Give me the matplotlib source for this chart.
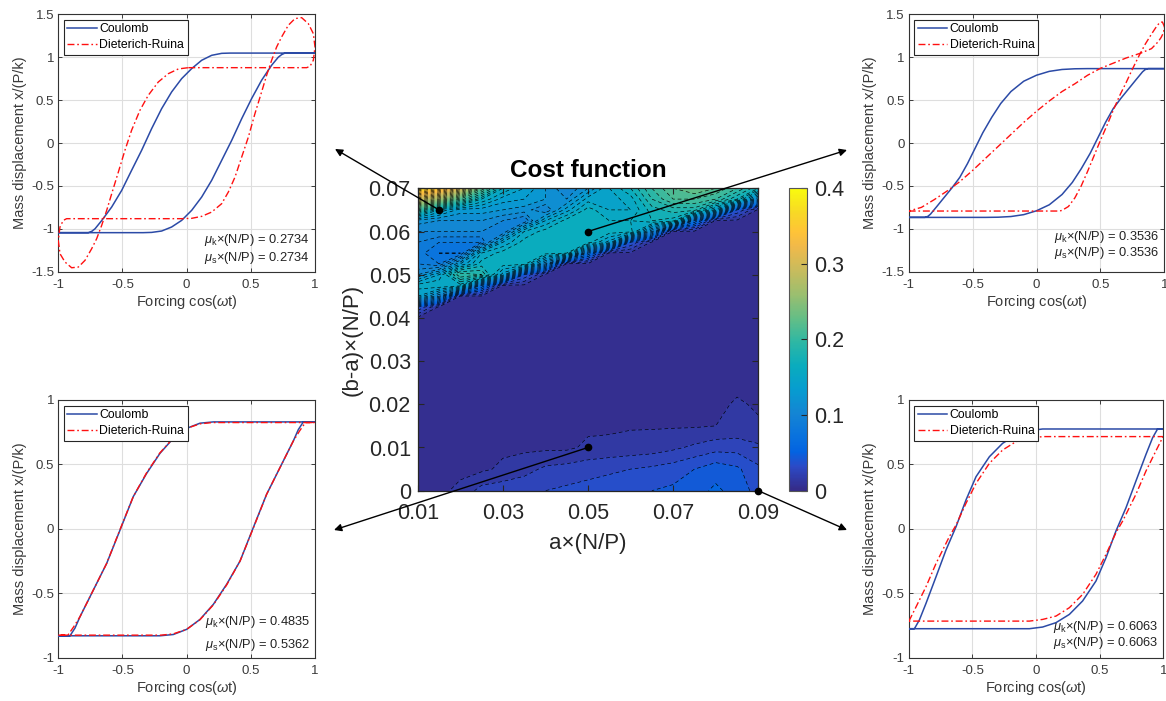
import numpy as np
import matplotlib
matplotlib.use('Agg')
import matplotlib.pyplot as plt
from matplotlib.colors import LinearSegmentedColormap, Normalize
from matplotlib.cm import ScalarMappable

plt.rcParams['font.family'] = ['Liberation Sans', 'DejaVu Sans']
plt.rcParams['mathtext.fontset'] = 'custom'
plt.rcParams['mathtext.rm'] = 'Liberation Sans'
plt.rcParams['mathtext.it'] = 'Liberation Sans:italic'
plt.rcParams['axes.unicode_minus'] = False

# ---------------- data: cost function grid ----------------
cost_a = [0.010, 0.015, 0.020, 0.025, 0.030, 0.035, 0.040, 0.045, 0.050,
          0.055, 0.060, 0.065, 0.070, 0.075, 0.080, 0.085, 0.090]
cost_ba = [0.000, 0.005, 0.010, 0.015, 0.020, 0.025, 0.030, 0.035, 0.040,
           0.0425, 0.045, 0.0475, 0.050, 0.0525, 0.055, 0.0575, 0.060,
           0.0625, 0.065, 0.0675, 0.070]
cost_grid = [
    [0.008, 0.008, 0.012, 0.024, 0.026, 0.028, 0.030, 0.032, 0.034, 0.036, 0.038, 0.040, 0.042, 0.046, 0.052, 0.046, 0.036],
    [0.008, 0.008, 0.008, 0.008, 0.012, 0.016, 0.022, 0.024, 0.026, 0.028, 0.030, 0.032, 0.035, 0.040, 0.046, 0.042, 0.032],
    [0.008, 0.008, 0.008, 0.008, 0.008, 0.008, 0.008, 0.008, 0.012, 0.013, 0.014, 0.015, 0.018, 0.022, 0.026, 0.026, 0.022],
    [0.008, 0.008, 0.008, 0.008, 0.008, 0.008, 0.008, 0.008, 0.008, 0.008, 0.009, 0.009, 0.009, 0.009, 0.010, 0.012, 0.011],
    [0.008, 0.008, 0.008, 0.008, 0.008, 0.008, 0.008, 0.008, 0.008, 0.008, 0.008, 0.008, 0.008, 0.008, 0.008, 0.011, 0.009],
    [0.008, 0.008, 0.008, 0.008, 0.008, 0.008, 0.008, 0.008, 0.008, 0.008, 0.008, 0.008, 0.008, 0.008, 0.008, 0.008, 0.008],
    [0.008, 0.008, 0.008, 0.008, 0.008, 0.008, 0.008, 0.008, 0.008, 0.008, 0.008, 0.008, 0.008, 0.008, 0.008, 0.008, 0.008],
    [0.008, 0.008, 0.008, 0.008, 0.008, 0.008, 0.008, 0.008, 0.008, 0.008, 0.008, 0.008, 0.008, 0.008, 0.008, 0.008, 0.008],
    [0.008, 0.008, 0.008, 0.008, 0.008, 0.008, 0.008, 0.008, 0.008, 0.008, 0.008, 0.008, 0.008, 0.008, 0.008, 0.008, 0.008],
    [0.040, 0.008, 0.008, 0.008, 0.008, 0.008, 0.008, 0.008, 0.008, 0.008, 0.008, 0.008, 0.008, 0.008, 0.008, 0.008, 0.008],
    [0.140, 0.100, 0.008, 0.008, 0.008, 0.008, 0.008, 0.008, 0.008, 0.008, 0.008, 0.008, 0.008, 0.008, 0.008, 0.008, 0.008],
    [0.155, 0.160, 0.155, 0.070, 0.008, 0.008, 0.008, 0.008, 0.008, 0.008, 0.008, 0.008, 0.008, 0.008, 0.008, 0.008, 0.008],
    [0.110, 0.140, 0.200, 0.190, 0.135, 0.040, 0.008, 0.008, 0.008, 0.008, 0.008, 0.008, 0.008, 0.008, 0.008, 0.008, 0.008],
    [0.090, 0.080, 0.130, 0.165, 0.165, 0.165, 0.100, 0.008, 0.008, 0.008, 0.008, 0.008, 0.008, 0.008, 0.008, 0.008, 0.008],
    [0.085, 0.070, 0.070, 0.150, 0.165, 0.165, 0.165, 0.160, 0.070, 0.008, 0.008, 0.008, 0.008, 0.008, 0.008, 0.008, 0.008],
    [0.090, 0.080, 0.080, 0.080, 0.140, 0.165, 0.165, 0.165, 0.165, 0.135, 0.040, 0.008, 0.008, 0.008, 0.008, 0.008, 0.008],
    [0.100, 0.100, 0.100, 0.100, 0.090, 0.150, 0.165, 0.165, 0.165, 0.165, 0.165, 0.100, 0.008, 0.008, 0.008, 0.008, 0.008],
    [0.115, 0.110, 0.110, 0.110, 0.100, 0.090, 0.140, 0.165, 0.165, 0.160, 0.160, 0.170, 0.165, 0.070, 0.008, 0.008, 0.008],
    [0.200, 0.150, 0.125, 0.125, 0.120, 0.115, 0.100, 0.135, 0.165, 0.150, 0.150, 0.175, 0.185, 0.185, 0.135, 0.040, 0.008],
    [0.290, 0.260, 0.210, 0.160, 0.135, 0.130, 0.120, 0.110, 0.145, 0.145, 0.155, 0.190, 0.210, 0.210, 0.200, 0.170, 0.100],
    [0.370, 0.350, 0.300, 0.220, 0.160, 0.140, 0.120, 0.100, 0.120, 0.150, 0.170, 0.200, 0.220, 0.230, 0.220, 0.200, 0.170],
]
cost_xticks = [0.01, 0.03, 0.05, 0.07, 0.09]
cost_xticklabels = ['0.01', '0.03', '0.05', '0.07', '0.09']
cost_yticks = [0, 0.01, 0.02, 0.03, 0.04, 0.05, 0.06, 0.07]
cost_yticklabels = ['0', '0.01', '0.02', '0.03', '0.04', '0.05', '0.06', '0.07']
cbar_ticks = [0, 0.1, 0.2, 0.3, 0.4]
cbar_ticklabels = ['0', '0.1', '0.2', '0.3', '0.4']

# selected parameter points (a, b-a) linked to panels TL, TR, BL, BR
sel_a = [0.015, 0.05, 0.05, 0.09]
sel_ba = [0.065, 0.06, 0.01, 0.0]

# ---------------- data: hysteresis loops ----------------
# Top-left: mu_k = mu_s = 0.2734
tl_coul_x = [-1.0, -0.766, -0.74, -0.714, -0.662, -0.584, -0.506, -0.429, -0.351, -0.273, -0.195, -0.117, -0.039,
             0.039, 0.117, 0.195, 0.273, 0.34, 1.0,
             0.766, 0.74, 0.714, 0.662, 0.584, 0.506, 0.429, 0.351, 0.273, 0.195, 0.117, 0.039,
             -0.039, -0.117, -0.195, -0.273, -0.34, -1.0]
tl_coul_y = [-1.045, -1.045, -1.03, -1.0, -0.904, -0.746, -0.552, -0.319, -0.086, 0.167, 0.4, 0.595, 0.75,
             0.867, 0.964, 1.022, 1.045, 1.048, 1.048,
             1.048, 1.03, 1.0, 0.906, 0.731, 0.517, 0.284, 0.031, -0.202, -0.435, -0.63, -0.785,
             -0.902, -0.979, -1.026, -1.042, -1.045, -1.045]
tl_dr_x = [0.013, 0.3, 0.6, 0.935, 0.961, 0.987, 1.0, 0.987, 0.948, 0.896, 0.844, 0.792, 0.74, 0.701, 0.662,
           0.623, 0.584, 0.532, 0.481, 0.429, 0.377, 0.325, 0.273, 0.195, 0.117, 0.039, -0.039, -0.3, -0.6,
           -0.935, -0.961, -0.987, -1.0, -0.987, -0.948, -0.896, -0.844, -0.792, -0.74, -0.701, -0.662,
           -0.623, -0.584, -0.532, -0.481, -0.429, -0.364, -0.299, -0.221, -0.143, -0.065, 0.013]
tl_dr_y = [0.878, 0.878, 0.878, 0.878, 0.894, 0.964, 1.119, 1.275, 1.391, 1.461, 1.45, 1.372, 1.236, 1.119, 0.964,
           0.789, 0.595, 0.342, 0.07, -0.163, -0.396, -0.571, -0.707, -0.805, -0.855, -0.878, -0.882, -0.882, -0.882,
           -0.882, -0.902, -0.979, -1.135, -1.29, -1.387, -1.454, -1.446, -1.368, -1.232, -1.115, -0.96,
           -0.785, -0.591, -0.338, -0.086, 0.148, 0.381, 0.556, 0.711, 0.808, 0.863, 0.878]

# Top-right: mu_k = mu_s = 0.3536
tr_coul_x = [-1.0, -0.874, -0.85, -0.83, -0.78, -0.72, -0.66, -0.6, -0.54, -0.48, -0.42, -0.35, -0.28, -0.2, -0.1,
             0.0, 0.1, 0.2, 0.3, 0.4, 0.49, 1.0,
             0.874, 0.85, 0.83, 0.78, 0.72, 0.66, 0.6, 0.54, 0.48, 0.42, 0.35, 0.28, 0.2, 0.1,
             0.0, -0.1, -0.2, -0.3, -0.4, -0.49, -1.0]
tr_coul_y = [-0.867, -0.867, -0.855, -0.83, -0.74, -0.63, -0.52, -0.40, -0.24, -0.06, 0.12, 0.30, 0.46, 0.60, 0.72,
             0.79, 0.835, 0.857, 0.865, 0.867, 0.867, 0.867,
             0.867, 0.855, 0.83, 0.74, 0.63, 0.52, 0.40, 0.24, 0.06, -0.12, -0.30, -0.46, -0.60, -0.72,
             -0.79, -0.835, -0.857, -0.865, -0.867, -0.867, -0.867]
tr_dr_x = [-1.0, 0.18, 0.2, 0.25, 0.3, 0.35, 0.4, 0.45, 0.5, 0.55, 0.6, 0.65, 0.7, 0.75, 0.8, 0.85, 0.9,
           0.94, 0.965, 0.985, 1.0, 0.995, 0.975, 0.952, 0.9, 0.82, 0.7, 0.6, 0.5, 0.4, 0.3, 0.2, 0.1, 0.0,
           -0.1, -0.2, -0.3, -0.4, -0.5, -0.6, -0.7, -0.8, -0.9, -1.0]
tr_dr_y = [-0.793, -0.793, -0.785, -0.74, -0.64, -0.5, -0.33, -0.15, 0.03, 0.2, 0.38, 0.55, 0.7, 0.86, 1.01,
           1.15, 1.27, 1.36, 1.405, 1.41, 1.36, 1.29, 1.23, 1.18, 1.1, 1.05, 0.99, 0.93, 0.87, 0.79, 0.69, 0.6,
           0.49, 0.37, 0.24, 0.1, -0.04, -0.18, -0.32, -0.45, -0.56, -0.66, -0.75, -0.793]

# Bottom-left: mu_k = 0.4835, mu_s = 0.5362
bl_coul_x = [-1.0, -0.909, -0.87, -0.831, -0.727, -0.623, -0.519, -0.416, -0.312, -0.208, -0.104, 0.0,
             0.104, 0.208, 1.0,
             0.909, 0.87, 0.831, 0.727, 0.623, 0.519, 0.416, 0.312, 0.208, 0.104, 0.0,
             -0.104, -0.208, -1.0]
bl_coul_y = [-0.83, -0.83, -0.77, -0.682, -0.475, -0.268, -0.009, 0.25, 0.43, 0.586, 0.703, 0.78,
             0.82, 0.83, 0.83,
             0.83, 0.77, 0.682, 0.475, 0.268, 0.009, -0.25, -0.43, -0.586, -0.703, -0.78,
             -0.82, -0.83, -0.83]
bl_dr_x = [-1.0, -0.925, -0.88, -0.83, -0.727, -0.623, -0.519, -0.416, -0.312, -0.208, -0.104, 0.0,
           0.104, 0.2, 1.0,
           0.925, 0.88, 0.83, 0.727, 0.623, 0.519, 0.416, 0.312, 0.208, 0.104, 0.0,
           -0.104, -0.2, -1.0]
bl_dr_y = [-0.825, -0.825, -0.76, -0.68, -0.475, -0.268, -0.005, 0.25, 0.435, 0.59, 0.705, 0.78,
           0.815, 0.825, 0.825,
           0.825, 0.76, 0.68, 0.475, 0.268, 0.005, -0.25, -0.435, -0.59, -0.705, -0.78,
           -0.815, -0.825, -0.825]

# Bottom-right: mu_k = mu_s = 0.6063
br_coul_x = [-1.0, -0.955, -0.916, -0.864, -0.785, -0.707, -0.628, -0.55, -0.471, -0.366, -0.262, -0.157,
             -0.052, 0.052, 1.0,
             0.955, 0.916, 0.864, 0.785, 0.707, 0.628, 0.55, 0.471, 0.366, 0.262, 0.157,
             0.052, -0.052, -1.0]
br_coul_y = [-0.775, -0.775, -0.707, -0.578, -0.371, -0.164, 0.017, 0.224, 0.405, 0.56, 0.664, 0.728,
             0.762, 0.775, 0.775,
             0.775, 0.707, 0.578, 0.371, 0.164, -0.017, -0.224, -0.405, -0.56, -0.664, -0.728,
             -0.762, -0.775, -0.775]
br_dr_x = [-1.0, -0.99, -0.942, -0.864, -0.785, -0.681, -0.628, -0.55, -0.471, -0.366, -0.262, -0.157,
           -0.052, 0.052, 0.157, 1.0,
           0.99, 0.942, 0.864, 0.785, 0.681, 0.628, 0.55, 0.471, 0.366, 0.262, 0.157,
           0.052, -0.052, -0.157, -1.0]
br_dr_y = [-0.716, -0.70, -0.605, -0.449, -0.268, -0.061, 0.03, 0.198, 0.353, 0.509, 0.612, 0.677,
           0.703, 0.716, 0.716, 0.716,
           0.70, 0.605, 0.449, 0.268, 0.061, -0.03, -0.198, -0.353, -0.509, -0.612, -0.677,
           -0.703, -0.716, -0.716, -0.716]

panel_mu_k = ['0.2734', '0.3536', '0.4835', '0.6063']
panel_mu_s = ['0.2734', '0.3536', '0.5362', '0.6063']
force_ticks = [-1, -0.5, 0, 0.5, 1]
force_ticklabels = ['-1', '-0.5', '0', '0.5', '1']
disp_ticks_top = [-1.5, -1, -0.5, 0, 0.5, 1, 1.5]
disp_ticklabels_top = ['-1.5', '-1', '-0.5', '0', '0.5', '1', '1.5']
disp_ticks_bot = [-1, -0.5, 0, 0.5, 1]
disp_ticklabels_bot = ['-1', '-0.5', '0', '0.5', '1']

# ---------------- style ----------------
W, H = 1166, 701
BLUE = '#2b4aa6'
RED = '#ff1010'
TXT = '#3a3a3a'
SPINE = '#333333'

parula_anchor = [
    (0.0, (0.2081, 0.1663, 0.5292)), (5 / 63, (0.1707, 0.2919, 0.7792)),
    (8 / 63, (0.0117, 0.3875, 0.8820)), (11 / 63, (0.0329, 0.4430, 0.8720)),
    (16 / 63, (0.0793, 0.5200, 0.8312)), (21 / 63, (0.0265, 0.6137, 0.8135)),
    (26 / 63, (0.0384, 0.6743, 0.7436)), (31 / 63, (0.1801, 0.7177, 0.6424)),
    (36 / 63, (0.3953, 0.7459, 0.5244)), (41 / 63, (0.6099, 0.7473, 0.4337)),
    (46 / 63, (0.7858, 0.7356, 0.3633)), (51 / 63, (0.9450, 0.7261, 0.2886)),
    (54 / 63, (0.9990, 0.7653, 0.2164)), (58 / 63, (0.9697, 0.8481, 0.1475)),
    (1.0, (0.9763, 0.9831, 0.0538))]
parula = LinearSegmentedColormap.from_list('parula', parula_anchor)


def frac_rect(left, top, right, bottom):
    return [left / W, 1 - bottom / H, (right - left) / W, (bottom - top) / H]


fig = plt.figure(figsize=(W / 100, H / 100), dpi=100)
fig.patch.set_facecolor('white')

# ---------------- central contour ----------------
axc = fig.add_axes(frac_rect(417.7, 188.3, 758.3, 490.7))
Xg, Yg = np.meshgrid(cost_a, cost_ba)
Zg = np.array(cost_grid)
norm = Normalize(0, 0.4)
levels = np.arange(0, 0.4001, 0.01)
axc.contourf(Xg, Yg, Zg, levels=levels, cmap=parula, norm=norm)
axc.contour(Xg, Yg, Zg, levels=levels[1:], colors='k', linewidths=0.45,
            linestyles=[(0, (6, 4.5))])
axc.set_xlim(0.01, 0.09)
axc.set_ylim(0, 0.07)
axc.set_xticks(cost_xticks)
axc.set_xticklabels(cost_xticklabels)
axc.set_yticks(cost_yticks)
axc.set_yticklabels(cost_yticklabels)
axc.tick_params(direction='in', top=True, right=True, length=4, width=0.8,
                labelsize=15.5, colors='#262626')
axc.tick_params(axis='x', pad=9)
axc.tick_params(axis='y', pad=5)
for s in axc.spines.values():
    s.set_color('#262626')
    s.set_linewidth(0.9)
axc.set_xlabel('a×(N/P)', fontsize=16, color='#262626', labelpad=6)
axc.set_ylabel('(b-a)×(N/P)', fontsize=16, color='#262626', labelpad=4)
axc.set_title('Cost function', fontsize=17.5, fontweight='bold', color='k', pad=8)

cax = fig.add_axes(frac_rect(789.3, 188.3, 807.3, 490.7))
cb = fig.colorbar(ScalarMappable(norm=norm, cmap=parula), cax=cax)
cb.set_ticks(cbar_ticks)
cb.set_ticklabels(cbar_ticklabels)
cb.ax.tick_params(direction='in', length=4, labelsize=15.5, colors='#262626', pad=5)
cb.outline.set_edgecolor('#555555')
cb.outline.set_linewidth(0.8)

# selected points + arrows to panels
axc.plot(sel_a, sel_ba, 'o', color='k', ms=4.5, clip_on=False, zorder=6)
arrow_heads = [(335, 149), (847, 150), (334, 530), (847, 530)]
for (hx, hy), a, b in zip(arrow_heads, sel_a, sel_ba):
    axc.annotate('', xy=(hx / W, 1 - hy / H), xycoords='figure fraction',
                 xytext=(a, b), textcoords='data', annotation_clip=False,
                 arrowprops=dict(arrowstyle='-|>', color='k', lw=1.0,
                                 mutation_scale=11, shrinkA=0, shrinkB=0),
                 zorder=7)

# ---------------- small panels ----------------
panels = [
    (frac_rect(58.3, 14.3, 315.0, 271.7), tl_coul_x, tl_coul_y, tl_dr_x, tl_dr_y,
     (-1.5, 1.5), disp_ticks_top, disp_ticklabels_top, (0.123, 0.053)),
    (frac_rect(908.7, 14.3, 1164.3, 271.7), tr_coul_x, tr_coul_y, tr_dr_x, tr_dr_y,
     (-1.5, 1.5), disp_ticks_top, disp_ticklabels_top, (0.136, 0.072)),
    (frac_rect(58.3, 400.0, 315.0, 657.7), bl_coul_x, bl_coul_y, bl_dr_x, bl_dr_y,
     (-1, 1), disp_ticks_bot, disp_ticklabels_bot, (0.14, 0.05)),
    (frac_rect(908.7, 400.0, 1163.3, 657.7), br_coul_x, br_coul_y, br_dr_x, br_dr_y,
     (-1, 1), disp_ticks_bot, disp_ticklabels_bot, (0.119, 0.057)),
]

for i, (rect, cx, cy, rx, ry, ylim, yt, ytl, ann_y) in enumerate(panels):
    ax = fig.add_axes(rect)
    ax.plot(cx, cy, color=BLUE, lw=1.1, label='Coulomb', zorder=3)
    ax.plot(rx, ry, color=RED, lw=1.0, ls=(0, (5, 2, 1.2, 2)), label='Dieterich-Ruina', zorder=4)
    ax.set_xlim(-1, 1)
    ax.set_ylim(*ylim)
    ax.set_xticks(force_ticks)
    ax.set_xticklabels(force_ticklabels)
    ax.set_yticks(yt)
    ax.set_yticklabels(ytl)
    ax.grid(True, color='#dedede', lw=0.8)
    ax.set_axisbelow(True)
    ax.tick_params(direction='in', top=True, right=True, length=3, width=0.7,
                   labelsize=9.5, colors=TXT)
    ax.tick_params(axis='x', pad=5)
    ax.tick_params(axis='y', pad=3)
    for s in ax.spines.values():
        s.set_color(SPINE)
        s.set_linewidth(0.8)
    ax.set_xlabel('Forcing cos($\\omega$t)', fontsize=10.5, color=TXT, labelpad=2)
    ax.set_ylabel('Mass displacement x/(P/k)', fontsize=10.5, color=TXT, labelpad=3)
    leg = ax.legend(loc='upper left', fontsize=8.8, frameon=True, fancybox=False,
                    edgecolor='#262626', framealpha=1, handlelength=2.4,
                    handletextpad=0.2, borderaxespad=0.45, borderpad=0.3,
                    labelspacing=0.3)
    leg.get_frame().set_linewidth(0.8)
    ax.text(0.98, ann_y[0], '$\\mu_{\\rm k}$×(N/P) = ' + panel_mu_k[i],
            transform=ax.transAxes, ha='right', va='center', fontsize=9.3, color='#222222')
    ax.text(0.98, ann_y[1], '$\\mu_{\\rm s}$×(N/P) = ' + panel_mu_s[i],
            transform=ax.transAxes, ha='right', va='center', fontsize=9.3, color='#222222')

fig.savefig('out.png', dpi=100, facecolor='white')
